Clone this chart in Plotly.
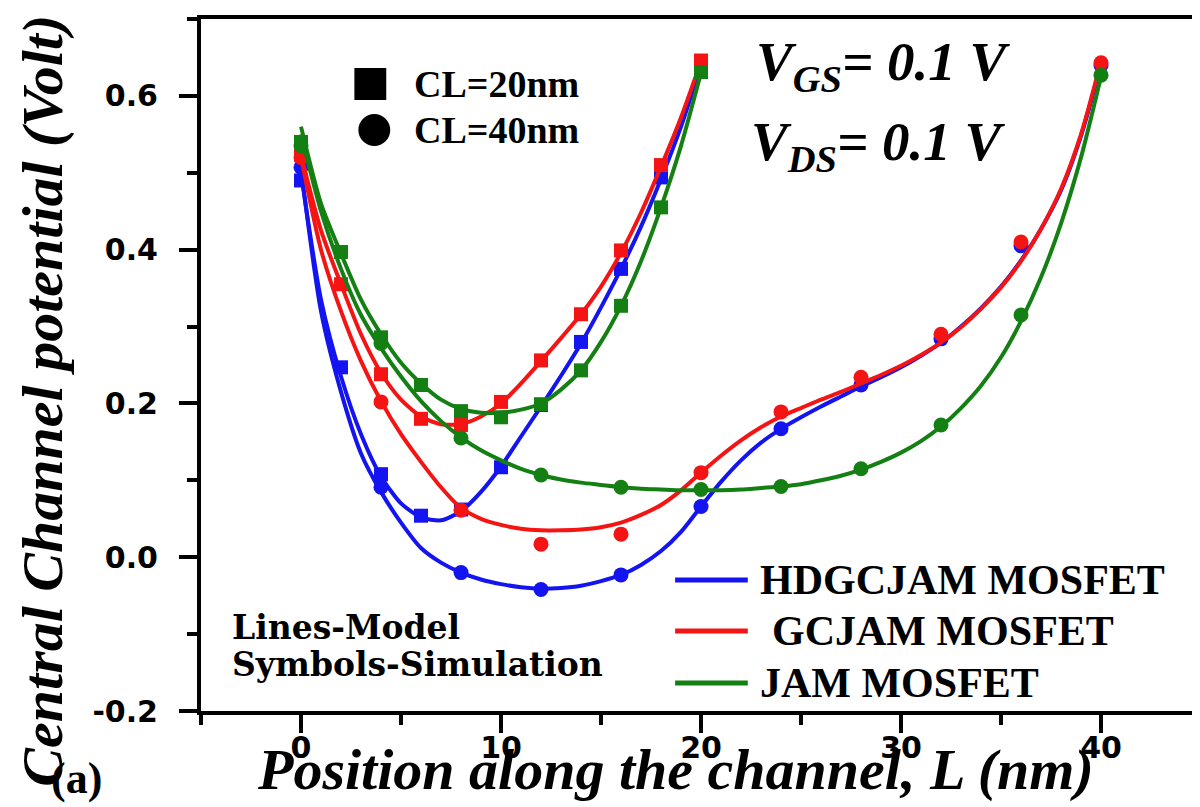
import plotly.graph_objects as go

# ---------------- data ----------------
# Simulation symbols, CL = 20 nm (squares)
sq_x = [0, 2, 4, 6, 8, 10, 12, 14, 16, 18, 20]
sq_hdgcjam = [0.490, 0.247, 0.108, 0.054, 0.062, 0.117, 0.198, 0.280, 0.375, 0.494, 0.640]
sq_gcjam = [0.523, 0.355, 0.238, 0.180, 0.172, 0.202, 0.256, 0.316, 0.399, 0.510, 0.646]
sq_jam = [0.540, 0.397, 0.286, 0.224, 0.190, 0.182, 0.199, 0.243, 0.327, 0.455, 0.631]

# Simulation symbols, CL = 40 nm (circles)
ci_x = [0, 4, 8, 12, 16, 20, 24, 28, 32, 36, 40]
ci_hdgcjam = [0.507, 0.091, -0.020, -0.042, -0.023, 0.066, 0.167, 0.224, 0.284, 0.405, 0.640]
ci_gcjam = [0.520, 0.202, 0.061, 0.017, 0.030, 0.110, 0.189, 0.234, 0.290, 0.410, 0.643]
ci_jam = [0.535, 0.278, 0.155, 0.107, 0.091, 0.088, 0.092, 0.115, 0.172, 0.315, 0.627]

# Model lines, CL = 20 nm (read at every nm)
m20_x = list(range(0, 21))
m20_hdgcjam = [0.500, 0.335, 0.235, 0.160, 0.105, 0.070, 0.052, 0.048, 0.060, 0.085, 0.118,
               0.157, 0.196, 0.236, 0.278, 0.325, 0.375, 0.430, 0.492, 0.560, 0.640]
m20_gcjam = [0.523, 0.425, 0.355, 0.290, 0.240, 0.205, 0.183, 0.173, 0.173, 0.183, 0.200,
             0.226, 0.255, 0.285, 0.316, 0.352, 0.396, 0.448, 0.508, 0.572, 0.645]
m20_jam = [0.560, 0.460, 0.395, 0.335, 0.290, 0.253, 0.226, 0.205, 0.193, 0.188, 0.188,
           0.192, 0.200, 0.218, 0.243, 0.280, 0.327, 0.385, 0.455, 0.535, 0.630]

# Model lines, CL = 40 nm (read at every nm)
m40_x = list(range(0, 41))
m40_hdgcjam = [0.505, 0.320, 0.215, 0.135, 0.085, 0.045, 0.012, -0.007, -0.020, -0.029,
               -0.035, -0.039, -0.041, -0.040, -0.037, -0.031, -0.023, -0.010, 0.008, 0.033,
               0.066, 0.098, 0.126, 0.149, 0.167, 0.182, 0.196, 0.209, 0.222, 0.234,
               0.247, 0.262, 0.279, 0.300, 0.324, 0.352, 0.386, 0.427, 0.477, 0.548, 0.640]
m40_gcjam = [0.520, 0.400, 0.320, 0.255, 0.203, 0.160, 0.124, 0.091, 0.064, 0.050,
             0.042, 0.037, 0.035, 0.035, 0.036, 0.039, 0.045, 0.055, 0.068, 0.087,
             0.110, 0.132, 0.152, 0.169, 0.183, 0.194, 0.205, 0.215, 0.226, 0.237,
             0.249, 0.263, 0.279, 0.299, 0.323, 0.351, 0.385, 0.427, 0.479, 0.550, 0.645]
m40_jam = [0.550, 0.450, 0.375, 0.315, 0.272, 0.235, 0.203, 0.177, 0.156, 0.139,
           0.126, 0.115, 0.107, 0.101, 0.097, 0.094, 0.091, 0.089, 0.088, 0.087,
           0.087, 0.087, 0.088, 0.090, 0.092, 0.095, 0.100, 0.106, 0.114, 0.124,
           0.136, 0.151, 0.170, 0.194, 0.223, 0.260, 0.307, 0.364, 0.434, 0.520, 0.625]

devices = ["HDGCJAM MOSFET", "GCJAM MOSFET", "JAM MOSFET"]
symbol_labels = ["CL=20nm", "CL=40nm"]

x_tick_vals = [0, 10, 20, 30, 40]
x_tick_text = ["0", "10", "20", "30", "40"]
y_tick_vals = [-0.2, 0.0, 0.2, 0.4, 0.6]
y_tick_text = ["-0.2", "0.0", "0.2", "0.4", "0.6"]

# ---------------- styling ----------------
BLUE = "rgb(20,20,240)"
RED = "rgb(245,20,20)"
GREEN = "rgb(20,128,20)"
SERIF = "Liberation Serif, Times New Roman, serif"
WSERIF = "DejaVu Serif, serif"
SANS = "DejaVu Sans, Arial, sans-serif"

fig = go.Figure()

series = [
    (BLUE, m20_hdgcjam, m40_hdgcjam, sq_hdgcjam, ci_hdgcjam),
    (RED, m20_gcjam, m40_gcjam, sq_gcjam, ci_gcjam),
    (GREEN, m20_jam, m40_jam, sq_jam, ci_jam),
]
for color, y20, y40, ysq, yci in series:
    fig.add_trace(go.Scatter(x=m40_x, y=y40, mode="lines",
                             line=dict(color=color, width=4, shape="spline", smoothing=0.7),
                             showlegend=False, hoverinfo="skip"))
    fig.add_trace(go.Scatter(x=m20_x, y=y20, mode="lines",
                             line=dict(color=color, width=4, shape="spline", smoothing=0.7),
                             showlegend=False, hoverinfo="skip"))
    fig.add_trace(go.Scatter(x=sq_x, y=ysq, mode="markers",
                             marker=dict(symbol="square", size=14, color=color, line=dict(width=0)),
                             showlegend=False))
    fig.add_trace(go.Scatter(x=ci_x, y=yci, mode="markers",
                             marker=dict(symbol="circle", size=15, color=color, line=dict(width=0)),
                             showlegend=False))

L, R, T, B = 193, 3, 11, 104
W, H = 1200, 807
PW, PH = W - L - R, H - T - B


def px(xp):
    return (xp - L) / PW


def py(yp):
    return (H - B - yp) / PH


def note(text, x, y, size, family=SERIF, xanchor="left", angle=0):
    return dict(text=text, xref="paper", yref="paper", x=px(x), y=py(y), xanchor=xanchor,
                yanchor="middle", showarrow=False, textangle=angle,
                font=dict(family=family, size=size, color="black"))


shapes = []
annotations = []

# Legend for lines (model)
for name, color, yc, xt in zip(devices, [BLUE, RED, GREEN], [572, 623, 675], [752, 764, 752]):
    shapes.append(dict(type="line", xref="paper", yref="paper", x0=px(669), x1=px(742),
                       y0=py(yc), y1=py(yc), line=dict(color=color, width=5)))
    annotations.append(note("<b>" + name + "</b>", xt, yc, 42))

# Legend for symbols
shapes.append(dict(type="rect", xref="paper", yref="paper", x0=px(347), x1=px(379),
                   y0=py(92), y1=py(60), fillcolor="black", line=dict(width=0)))
shapes.append(dict(type="circle", xref="paper", yref="paper", x0=px(351), x1=px(383),
                   y0=py(138), y1=py(106), fillcolor="black", line=dict(width=0)))
for txt, yc in zip(symbol_labels, [76, 122]):
    annotations.append(note("<b>" + txt + "</b>", 405, yc, 38))

# Bias conditions
annotations.append(note("<b><i>V</i></b><sub><b><i>GS</i></b></sub><b><i>= 0.1 V</i></b>",
                        748, 57, 55))
annotations.append(note("<b><i>V</i></b><sub><b><i>DS</i></b></sub><b><i>= 0.1 V</i></b>",
                        743, 137, 55))

# Lines / symbols note
annotations.append(note("<b>Lines-Model</b>", 222, 619, 33, family=WSERIF))
annotations.append(note("<b>Symbols-Simulation</b>", 222, 656, 33, family=WSERIF))

# Panel label
annotations.append(note("<b>(a)</b>", 68, 770, 44, xanchor="center"))

# Axis titles
annotations.append(note("<b><i>Position along the channel, L (nm)</i></b>", 669, 761, 58,
                        xanchor="center"))
annotations.append(note("<b><i>Central Channel potential (Volt)</i></b>", 33, 393, 58,
                        xanchor="center", angle=-90))

fig.update_layout(
    width=W, height=H,
    margin=dict(l=L, r=R, t=T, b=B, pad=0),
    paper_bgcolor="white", plot_bgcolor="white",
    showlegend=False,
    shapes=shapes, annotations=annotations,
)
axis_common = dict(showgrid=False, zeroline=False, showline=True, linecolor="black",
                   linewidth=4, mirror=True, ticks="outside", tickwidth=4, ticklen=18,
                   tickcolor="black")
fig.update_xaxes(range=[-5, 45], tickvals=x_tick_vals, ticktext=x_tick_text,
                 tickfont=dict(family=SANS, size=30, color="black", weight="bold"),
                 ticklabelstandoff=-11,
                 minor=dict(ticks="outside", ticklen=10, tickwidth=4, tickcolor="black", dtick=5,
                            tick0=0),
                 **axis_common)
fig.update_yaxes(range=[-0.2, 0.7], tickvals=y_tick_vals, ticktext=y_tick_text,
                 tickfont=dict(family=SANS, size=30, color="black", weight="bold"),
                 ticklabelstandoff=15,
                 minor=dict(ticks="outside", ticklen=10, tickwidth=4, tickcolor="black", dtick=0.1,
                            tick0=0),
                 **axis_common)

fig.write_html("out.html")
